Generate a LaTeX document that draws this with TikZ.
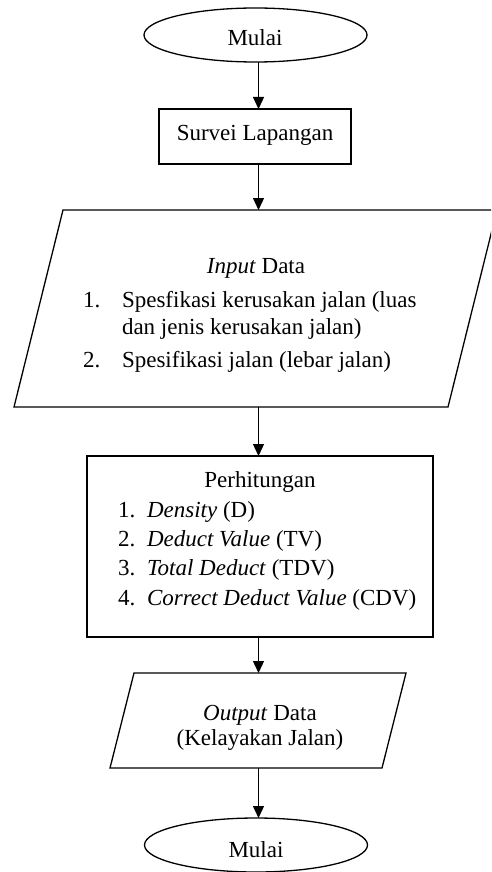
\documentclass[tikz,border=0pt]{standalone}
\usepackage{fontspec}
\setmainfont{Liberation Serif}
\usetikzlibrary{shapes.geometric,arrows.meta}
\begin{document}
\begin{tikzpicture}[x=1pt,y=-1pt,
  every node/.style={inner sep=0pt,outer sep=0pt},
  txt/.style={font=\fontsize{23}{28}\selectfont,anchor=base},
  txtl/.style={font=\fontsize{23}{28}\selectfont,anchor=base west},
  shapeline/.style={draw=black,line width=1.3pt},
  terminal/.style={shapeline,ellipse,minimum width=223pt,minimum height=54pt},
  procbox/.style={shapeline,rectangle},
  iobody/.style={rectangle},
  arr/.style={line width=1.3pt,-{Triangle[length=12pt,width=11pt]}}]
\useasboundingbox (0,0) rectangle (491,872);
\fill[white] (0,0) rectangle (491,872);
\clip (0,0) rectangle (491,872);
\coordinate (ax) at (258.5,0);
% start
\node[terminal] (start) at (255.5,35) {};
\node[txt] (startT) at (255,46) {Mulai};
% survei
\node[procbox,minimum width=192pt,minimum height=55pt] (survei) at (255,136.5) {};
\node[txt] (surveiT) at (255,140) {Survei Lapangan};
% input
\node[iobody,minimum width=434pt,minimum height=197pt] (input) at (255.5,308.5) {};
\draw[shapeline] ([xshift=24.5pt]input.north west) -- ([xshift=24.5pt]input.north east)
  -- ([xshift=-24.5pt]input.south east) -- ([xshift=-24.5pt]input.south west) -- cycle;
\node[txt] (inT) at (256,273) {\textit{Input} Data};
\node[txtl] (in1n) at (83,307) {1.};
\node[txtl] (in1a) at (122,307) {Spesfikasi kerusakan jalan (luas};
\node[txtl] (in1b) at (122,334) {dan jenis kerusakan jalan)};
\node[txtl] (in2n) at (83,367) {2.};
\node[txtl] (in2a) at (122,367) {Spesifikasi jalan (lebar jalan)};
% perhitungan
\node[procbox,minimum width=346pt,minimum height=181pt] (hit) at (260,546.5) {};
\node[txt] (hitT) at (260,487) {Perhitungan};
\node[txtl] (h1n) at (118,517) {1.};
\node[txtl] (h1) at (147,517) {\textit{Density} (D)};
\node[txtl] (h2n) at (118,546) {2.};
\node[txtl] (h2) at (147,546) {\textit{Deduct Value} (TV)};
\node[txtl] (h3n) at (118,575) {3.};
\node[txtl] (h3) at (147,575) {\textit{Total Deduct} (TDV)};
\node[txtl] (h4n) at (118,605) {4.};
\node[txtl] (h4) at (147,605) {\textit{Correct Deduct Value} (CDV)};
% output
\node[iobody,minimum width=272pt,minimum height=95pt] (output) at (258,720.5) {};
\draw[shapeline] ([xshift=12pt]output.north west) -- ([xshift=12pt]output.north east)
  -- ([xshift=-12pt]output.south east) -- ([xshift=-12pt]output.south west) -- cycle;
\node[txt] (outT1) at (260,720) {\textit{Output} Data};
\node[txt] (outT2) at (260,745) {(Kelayakan Jalan)};
% end
\node[terminal] (stop) at (256,845) {};
\node[txt] (stopT) at (256,857) {Mulai};
% connectors
\draw[arr] (start.south -| ax) -- (survei.north -| ax);
\draw[arr] (survei.south -| ax) -- (input.north -| ax);
\draw[arr] (input.south -| ax) -- (hit.north -| ax);
\draw[arr] (hit.south -| ax) -- (output.north -| ax);
\draw[arr] (output.south -| ax) -- (stop.north -| ax);
\end{tikzpicture}
\end{document}
